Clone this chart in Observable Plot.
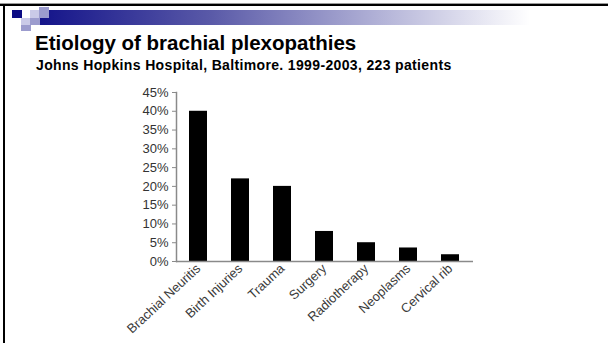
<!DOCTYPE html>
<html>
<head>
<meta charset="utf-8">
<script src="https://cdn.jsdelivr.net/npm/d3@7"></script>
<script src="https://cdn.jsdelivr.net/npm/@observablehq/plot@0.6"></script>
<style>
  html, body { margin: 0; padding: 0; background: #fff; }
  #slide { position: relative; width: 608px; height: 343px; overflow: hidden; background: #fff; font-family: "Liberation Sans", Arial, sans-serif; }
  .box { position: absolute; }
  #title { position: absolute; left: 35px; top: 31px; font-size: 20.5px; font-weight: bold; color: #000; white-space: nowrap; }
  #subtitle { position: absolute; left: 36px; top: 57px; font-size: 14px; letter-spacing: 0.35px; font-weight: bold; color: #000; white-space: nowrap; }
  #chart { position: absolute; left: 100px; top: 80px; }
</style>
</head>
<body>
<div id="slide">
  <!-- slide frame -->
  <div class="box" style="left:0;top:3px;width:608px;height:1px;background:#9a9a9a"></div>
  <div class="box" style="left:0;top:4px;width:608px;height:2px;background:#000"></div>
  <div class="box" style="left:3px;top:4px;width:2px;height:339px;background:#000"></div>
  <!-- header band and squares -->
  <div class="box" style="left:40px;top:10px;width:490px;height:15px;background:linear-gradient(to right,#14148a 0%,#5a5aa8 35%,#b4b4d8 70%,#ffffff 100%)"></div>
  <div class="box" style="left:12px;top:10px;width:10px;height:8px;background:#0c0c84"></div>
  <div class="box" style="left:30px;top:10px;width:9px;height:8px;background:#cacae8"></div>
  <div class="box" style="left:39px;top:7px;width:10px;height:11px;background:#9c9cce"></div>
  <div class="box" style="left:21px;top:18px;width:9px;height:7px;background:#cacae8"></div>
  <div class="box" style="left:30px;top:18px;width:10px;height:7px;background:#9c9cce"></div>
  <div class="box" style="left:21px;top:25px;width:10px;height:6px;background:#9c9cce"></div>

  <div id="title">Etiology of brachial plexopathies</div>
  <div id="subtitle">Johns Hopkins Hospital, Baltimore. 1999-2003, 223 patients</div>
  <div id="chart"></div>
</div>
<script>
// Share of 223 patients by cause of brachial plexopathy (percent)
const categories = ["Brachial Neuritis", "Birth Injuries", "Trauma", "Surgery", "Radiotherapy", "Neoplasms", "Cervical rib"];
const percents = [40, 22, 20, 8, 5, 3.6, 1.8];
const yTicks = [0, 5, 10, 15, 20, 25, 30, 35, 40, 45];

const rows = categories.map((c, i) => ({cause: c, pct: percents[i]}));
const axisGray = "#8a8a8a";

const chart = Plot.plot({
  width: 400,
  height: 263,
  marginLeft: 76,
  marginRight: 27,
  marginTop: 12,
  marginBottom: 82,
  style: {fontFamily: "'Liberation Sans', Arial, sans-serif", fontSize: "13px", color: "#333", background: "transparent"},
  x: {domain: categories, paddingInner: 0.56, paddingOuter: 0.28, label: null},
  y: {domain: [0, 45], label: null},
  marks: [
    Plot.barY(rows, {x: "cause", y: "pct", fill: "#000"}),
    Plot.ruleY([0], {stroke: axisGray, strokeWidth: 1.5}),
    Plot.frame({anchor: "left", stroke: axisGray, strokeWidth: 1.5}),
    Plot.axisY({ticks: yTicks, tickFormat: d => d + "%", tickSize: 4, tickPadding: 4, stroke: axisGray, fill: "#333", fontSize: 13, label: null}),
    Plot.axisX({tickSize: 0, tickPadding: 5, tickRotate: -43, fill: "#3a3a3a", fontSize: 13, label: null})
  ]
});
document.getElementById("chart").appendChild(chart);
</script>
</body>
</html>
